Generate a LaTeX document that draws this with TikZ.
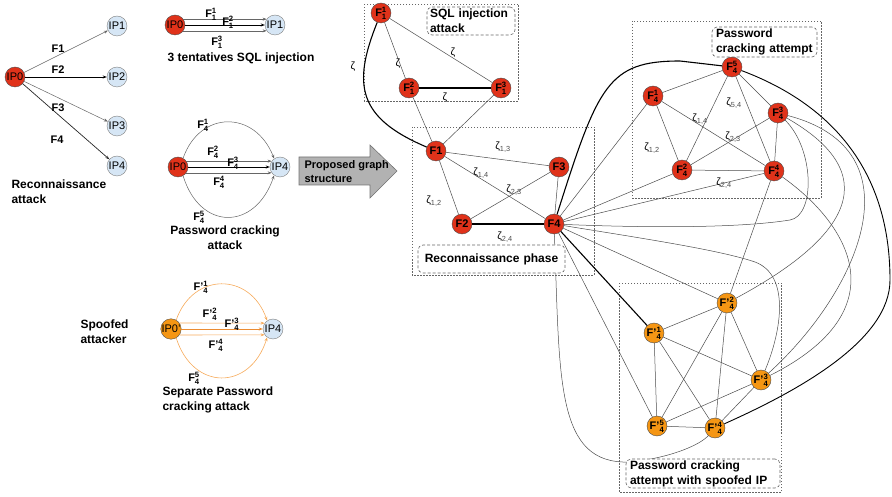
\documentclass[tikz,border=0pt]{standalone}
\usepackage{amsmath}
\usepackage{fontspec}
\setmainfont{Liberation Sans}
\usetikzlibrary{arrows.meta}
\definecolor{nred}{RGB}{224,50,26}
\definecolor{nora}{RGB}{245,150,20}
\definecolor{nblue}{RGB}{214,230,245}
\definecolor{lora}{RGB}{246,170,90}
\definecolor{dora}{RGB}{235,140,50}
\definecolor{agray}{RGB}{178,178,178}
\begin{document}
\begin{tikzpicture}[x=1pt,y=-1pt]
\tikzset{
 rn/.style={circle, draw=black!70, line width=0.4pt, fill=nred, minimum size=20pt, inner sep=0pt, font=\bfseries\fontsize{11}{12}\selectfont},
 on/.style={rn, fill=nora},
 bn/.style={circle, draw=black!50, line width=0.4pt, fill=nblue, minimum size=20pt, inner sep=0pt, font=\fontsize{11}{12}\selectfont},
 ipr/.style={bn, fill=nred, draw=black!70},
 ipo/.style={bn, fill=nora, draw=black!70},
 e/.style={draw=black!70, line width=0.5pt},
 thk/.style={draw=black, line width=1.1pt},
 arr/.style={-{Stealth[length=4pt,width=3pt]}, draw=black!60, line width=0.5pt},
 oarr/.style={-{Stealth[length=4pt,width=3pt]}, draw=lora, line width=0.6pt},
 grp/.style={draw=black!60, dash pattern=on 1.5pt off 1.5pt, line width=0.5pt},
 lab/.style={draw=black!60, dash pattern=on 3pt off 2pt, rounded corners=5pt, fill=white, line width=0.6pt, font=\bfseries\fontsize{12}{15}\selectfont, align=left, inner sep=0pt},
 tl/.style={font=\bfseries\fontsize{12}{15}\selectfont},
 el/.style={font=\bfseries\fontsize{11}{12}\selectfont},
 zl/.style={font=\fontsize{10.5}{12}\selectfont},
}
\useasboundingbox (0,0) rectangle (892,497);

% group boxes
\draw[grp] (364,4) rectangle (518,101);
\draw[grp] (412,127) rectangle (594,275);
\draw[grp] (632,21) rectangle (821,198);
\draw[grp] (619,283) rectangle (781,492);

% ---------------- left: reconnaissance
\node[ipr] (IPa0) at (15,77) {IP0};
\node[bn] (IPa1) at (117,26) {IP1};
\node[bn] (IPa2) at (117,77) {IP2};
\node[bn] (IPa3) at (117,126) {IP3};
\node[bn] (IPa4) at (117,166) {IP4};
\draw[arr] (IPa0) -- (IPa1);
\draw[arr, draw=black, line width=0.7pt] (IPa0) -- (IPa2);
\draw[arr] (IPa0) -- (IPa3);
\draw[arr, draw=black!85, line width=0.7pt] (IPa0) -- (IPa4);
\node[el] (la1) at (58,49) {F1};
\node[el] (la2) at (58,70) {F2};
\node[el] (la3) at (58,108) {F3};
\node[el] (la4) at (57,140) {F4};
\node[tl, anchor=west, align=left] (recatt) at (8,192) {Reconnaissance\\attack};

% ---------------- left: SQL
\node[ipr] (IPb0) at (175,25) {IP0};
\node[bn] (IPb1) at (275,25) {IP1};
\draw[arr] (IPb0.35) -- (IPb1.145);
\draw[arr, draw=black, line width=0.7pt] (IPb0) -- (IPb1);
\draw[arr] (IPb0.-35) -- (IPb1.-145);
\node[el] (lb1) at (211,14) {F$_{\textbf{1}}^{\textbf{1}}$};
\node[el] (lb2) at (228,22) {F$_{\textbf{1}}^{\textbf{2}}$};
\node[el] (lb3) at (217,42) {F$_{\textbf{1}}^{\textbf{3}}$};
\node[tl] (sqlt) at (241,58) {3 tentatives SQL injection};

% ---------------- left: password cracking
\node[ipr] (IPc0) at (178,167) {IP0};
\node[bn] (IPc4) at (280,167) {IP4};
\draw[arr] (IPc0.60) .. controls (200,110) and (255,110) .. (IPc4.125);
\draw[arr] (IPc0.35) -- (IPc4.145);
\draw[arr, draw=black, line width=0.7pt] (IPc0) -- (IPc4);
\draw[arr] (IPc0.-35) -- (IPc4.-145);
\draw[arr] (IPc0.-60) .. controls (200,231) and (255,231) .. (IPc4.-125);
\node[el] (lc1) at (203,125) {F$_{\textbf{4}}^{\textbf{1}}$};
\node[el] (lc2) at (213,152) {F$_{\textbf{4}}^{\textbf{2}}$};
\node[el] (lc3) at (233,163) {F$_{\textbf{4}}^{\textbf{3}}$};
\node[el] (lc4) at (219,182) {F$_{\textbf{4}}^{\textbf{4}}$};
\node[el] (lc5) at (199,217) {F$_{\textbf{4}}^{\textbf{5}}$};
\node[tl, align=center] (pwt) at (225,238) {Password cracking\\attack};

% ---------------- left: spoofed
\node[ipo] (IPd0) at (171,329) {IP0'};
\node[bn] (IPd4) at (273,329) {IP4};
\draw[oarr] (IPd0.60) .. controls (193,272) and (250,272) .. (IPd4.125);
\draw[oarr] (IPd0.35) -- (IPd4.145);
\draw[oarr, draw=dora, line width=0.8pt] (IPd0) -- (IPd4);
\draw[oarr] (IPd0.-35) -- (IPd4.-145);
\draw[oarr] (IPd0.-60) .. controls (193,391) and (250,391) .. (IPd4.-125);
\node[el] (ld1) at (201,287) {F'$_{\textbf{4}}^{\textbf{1}}$};
\node[el] (ld2) at (210,314) {F'$_{\textbf{4}}^{\textbf{2}}$};
\node[el] (ld3) at (232,324) {F'$_{\textbf{4}}^{\textbf{3}}$};
\node[el] (ld4) at (216,345) {F'$_{\textbf{4}}^{\textbf{4}}$};
\node[el] (ld5) at (194,378) {F$_{\textbf{4}}^{\textbf{5}}$};
\node[tl, anchor=west, align=left] (spt) at (77,332) {Spoofed\\attacker};
\node[tl, anchor=west, align=left] (sept) at (159,400) {Separate Password\\cracking attack};

% ---------------- block arrow
\draw[fill=agray, draw=black!55, line width=0.6pt] (299,157) -- (370,157) -- (370,145) -- (397,171) -- (370,198) -- (370,185) -- (299,185) -- cycle;
\node[font=\bfseries\fontsize{11}{14}\selectfont, anchor=west, align=left] (pgs) at (301,172) {Proposed graph\\structure};

% ---------------- right graph nodes
\node[rn] (F11) at (381,13) {F$_{\textbf{1}}^{\textbf{1}}$};
\node[rn] (F12) at (409,88) {F$_{\textbf{1}}^{\textbf{2}}$};
\node[rn] (F13) at (501,88) {F$_{\textbf{1}}^{\textbf{3}}$};
\node[rn] (F1) at (436,151) {F1};
\node[rn] (F3) at (559,167) {F3};
\node[rn] (F2) at (462,224) {F2};
\node[rn] (F4) at (554,224) {F4};
\node[rn] (F45) at (732,67) {F$_{\textbf{4}}^{\textbf{5}}$};
\node[rn] (F41) at (653,96) {F$_{\textbf{4}}^{\textbf{1}}$};
\node[rn] (F43) at (778,113) {F$_{\textbf{4}}^{\textbf{3}}$};
\node[rn] (F42) at (682,170) {F$_{\textbf{4}}^{\textbf{2}}$};
\node[rn] (F44) at (774,171) {F$_{\textbf{4}}^{\textbf{4}}$};
\node[on] (G2) at (727,303) {F'$_{\textbf{4}}^{\textbf{2}}$};
\node[on] (G1) at (654,333) {F'$_{\textbf{4}}^{\textbf{1}}$};
\node[on] (G3) at (761,380) {F'$_{\textbf{4}}^{\textbf{3}}$};
\node[on] (G5) at (657,426) {F'$_{\textbf{4}}^{\textbf{5}}$};
\node[on] (G4) at (715,428) {F'$_{\textbf{4}}^{\textbf{4}}$};

% SQL cluster
\draw[e] (F11) -- (F12);
\draw[e] (F11) -- (F13);
\draw[thk] (F12) -- (F13);
\draw[e] (F12) -- (F1);
\draw[e] (F13) -- (F1);
\draw[thk] (F11) .. controls (352,85) and (358,118) .. (F1);
% recon cluster
\draw[e] (F1) -- (F3);
\draw[e] (F1) -- (F4);
\draw[e] (F1) -- (F2);
\draw[e] (F2) -- (F3);
\draw[e] (F3) -- (F4);
\draw[thk] (F2) -- (F4);
% F4 to password cluster
\draw[e] (F4) -- (F41);
\draw[e] (F4) -- (F42);
\draw[e] (F4) -- (F44);
\draw[thk] (F4) .. controls (598,85) and (608,61) .. (680,61) -- (F45);
\draw[e] (F4) .. controls (650,228) and (740,228) .. (790,220) .. controls (815,216) and (815,150) .. (F43);
% password cluster
\draw[e] (F45) -- (F41);
\draw[e] (F45) -- (F42);
\draw[e] (F45) -- (F44);
\draw[e] (F45) -- (F43);
\draw[e] (F41) -- (F42);
\draw[e] (F41) -- (F44);
\draw[e] (F42) -- (F43);
\draw[e] (F42) -- (F44);
\draw[e] (F43) -- (F44);
% to spoofed cluster
\draw[e] (F44) -- (G2);
\draw[e] (F43) .. controls (895,180) and (835,245) .. (G2);
\draw[e] (F43) .. controls (920,150) and (860,290) .. (G3);
\draw[e] (F44) .. controls (850,225) and (900,310) .. (G3);
\draw[line width=0.9pt, draw=black] (F45) .. controls (820,100) and (890,160) .. (890,280) .. controls (890,340) and (800,390) .. (G4);
\draw[thk] (F4) -- (G1);
\draw[e] (F4) -- (G2);
\draw[e] (F4) -- (G5);
\draw[e] (F4) .. controls (640,238) and (720,250) .. (755,262) .. controls (790,275) and (782,330) .. (G3);
\draw[e] (F4) .. controls (560,380) and (555,465) .. (630,462) .. controls (670,458) and (700,445) .. (G4);
% spoofed cluster
\draw[e] (G1) -- (G2);
\draw[e] (G1) -- (G3);
\draw[e] (G1) -- (G5);
\draw[e] (G1) -- (G4);
\draw[e] (G2) -- (G5);
\draw[e] (G2) -- (G4);
\draw[e] (G2) -- (G3);
\draw[e] (G3) -- (G5);
\draw[e] (G3) -- (G4);
\draw[e] (G5) -- (G4);

% zeta labels
\node[zl] (zs1) at (398,64) {ζ};
\node[zl] (zs2) at (453,53) {ζ};
\node[zl] (zs3) at (445,98) {ζ};
\node[zl] (zs4) at (353,67) {ζ};
\node[zl] (zr13) at (503,147) {ζ\textsubscript{\color{black!70}1,3}};
\node[zl] (zr14) at (481,173) {ζ\textsubscript{\color{black!70}1,4}};
\node[zl] (zr12) at (434,201) {ζ\textsubscript{\color{black!70}1,2}};
\node[zl] (zr23) at (514,190) {ζ\textsubscript{\color{black!70}2,3}};
\node[zl] (zr24) at (505,237) {ζ\textsubscript{\color{black!70}2,4}};
\node[zl] (zp54) at (734,103) {ζ\textsubscript{\color{black!70}5,4}};
\node[zl] (zp14) at (700,119) {ζ\textsubscript{\color{black!70}1,4}};
\node[zl] (zp23) at (733,137) {ζ\textsubscript{\color{black!70}2,3}};
\node[zl] (zp12) at (652,148) {ζ\textsubscript{\color{black!70}1,2}};
\node[zl] (zp24) at (724,183) {ζ\textsubscript{\color{black!70}2,4}};

% label boxes
\node[lab, minimum width=88pt, minimum height=28pt, text width=82pt] (sqll) at (471,21) {SQL injection\\attack};
\node[lab, align=center, minimum width=147pt, minimum height=28pt, text width=140pt] (recl) at (491.5,259) {Reconnaissance phase};
\node[lab, minimum width=105pt, minimum height=30pt, text width=97pt] (pwl) at (764.5,42) {Password\\cracking attempt};
\node[lab, minimum width=154pt, minimum height=29pt, text width=146pt] (spl) at (703,473.5) {Password cracking\\attempt with spoofed IP};
\end{tikzpicture}
\end{document}
